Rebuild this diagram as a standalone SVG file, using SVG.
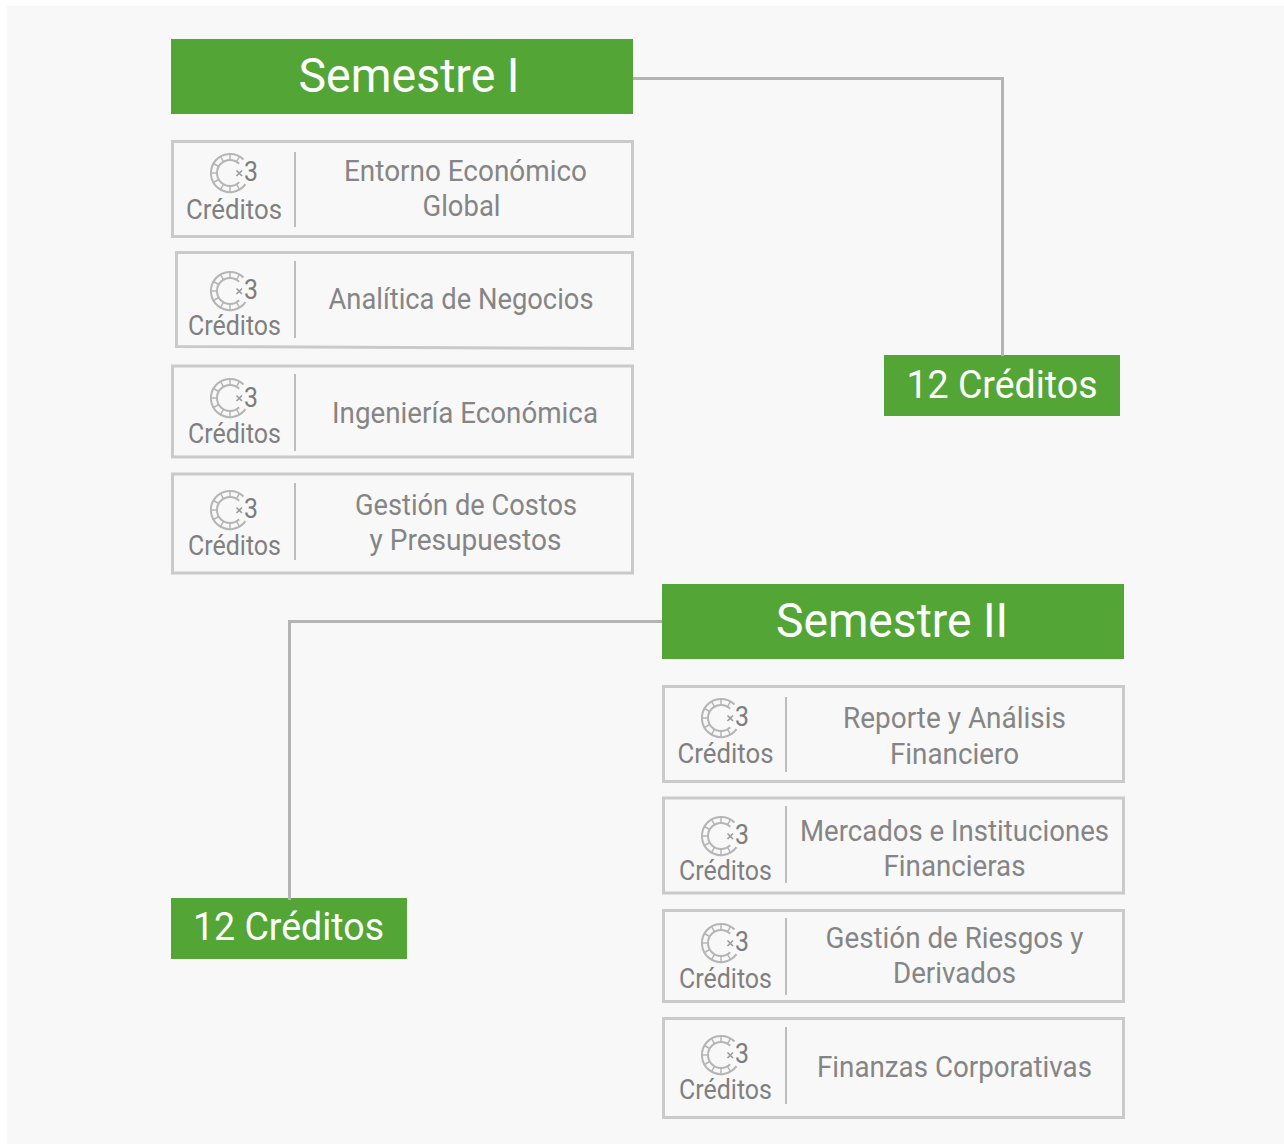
<svg xmlns="http://www.w3.org/2000/svg" width="1284" height="1145" viewBox="0 0 1284 1145">
<style>
text{font-family:Roboto,"Noto Sans","Liberation Sans",sans-serif;text-anchor:middle}
.box{fill:none;stroke:#cacaca;stroke-width:3}
.div{stroke:#bdbdbd;stroke-width:2}
.hd{fill:#53a635}
.t{fill:#858585;font-size:29px}
.c{fill:#808080;font-size:27px}
.n{fill:#7d7d7d;font-size:27px}
.h{fill:#fff;font-size:49px}
.k{fill:#fff;font-size:39px}
.conn{fill:none;stroke:#b4b4b4;stroke-width:3}
.ic{fill:none;stroke:#b5b5b5}
</style>
<defs>
<g id="icon">
<path class="ic" stroke-width="2" d="M13.500 -13.500A19.100 19.100 0 1 0 15.500 11.200M9.200 -9.200A13 13 0 1 0 9.200 9.200"/>
<path class="ic" stroke-width="1.500" d="M0 -13V-19M-6.500 -11.300L-9.500 -16.500M-11.300 -6.500L-16.500 -9.500M-13 0H-19M-11.300 6.500L-16.500 9.500M-6.500 11.300L-9.500 16.500M0 13V19M6.500 11.300L9.500 16.500M6.500 -11.300L9.500 -16.500"/>
<path d="M6.500 -2.500L12 3M12 -2.500L6.500 3" fill="none" stroke="#9a9a9a" stroke-width="1.600"/>
</g>
</defs>
<rect x="7" y="6" width="1277" height="1138" fill="#f8f8f8"/>
<g id="semestre1"><rect class="hd" x="171" y="39" width="462" height="75"/><text class="h" x="409" y="92" textLength="221" lengthAdjust="spacingAndGlyphs">Semestre I</text></g>
<g id="c1"><rect class="box" x="172.500" y="141.500" width="460" height="95"/><line class="div" x1="295" y1="152" x2="295" y2="227"/><use href="#icon" x="230" y="173"/><text class="n" x="251" y="181" textLength="14" lengthAdjust="spacingAndGlyphs">3</text><text class="c" x="234" y="219" textLength="96" lengthAdjust="spacingAndGlyphs">Créditos</text><text class="t" x="465.500" y="181" textLength="243" lengthAdjust="spacingAndGlyphs">Entorno Económico</text><text class="t" x="461.500" y="216" textLength="78" lengthAdjust="spacingAndGlyphs">Global</text></g>
<g id="c2"><path class="box" d="M176.500 252.500H632.500V348.500L176.500 346.500Z"/><line class="div" x1="295" y1="261" x2="295" y2="338"/><use href="#icon" x="230" y="291"/><text class="n" x="251" y="299" textLength="14" lengthAdjust="spacingAndGlyphs">3</text><text class="c" x="234.500" y="335" textLength="93" lengthAdjust="spacingAndGlyphs">Créditos</text><text class="t" x="461" y="309" textLength="265" lengthAdjust="spacingAndGlyphs">Analítica de Negocios</text></g>
<g id="c3"><rect class="box" x="172.500" y="366" width="460" height="91"/><line class="div" x1="295" y1="374" x2="295" y2="451"/><use href="#icon" x="230" y="398"/><text class="n" x="251" y="407" textLength="14" lengthAdjust="spacingAndGlyphs">3</text><text class="c" x="234.500" y="443" textLength="93" lengthAdjust="spacingAndGlyphs">Créditos</text><text class="t" x="465" y="423" textLength="266" lengthAdjust="spacingAndGlyphs">Ingeniería Económica</text></g>
<g id="c4"><rect class="box" x="172.500" y="474" width="460" height="99"/><line class="div" x1="295" y1="483" x2="295" y2="560"/><use href="#icon" x="230" y="510"/><text class="n" x="251" y="518" textLength="14" lengthAdjust="spacingAndGlyphs">3</text><text class="c" x="234.500" y="555" textLength="93" lengthAdjust="spacingAndGlyphs">Créditos</text><text class="t" x="466" y="515" textLength="222" lengthAdjust="spacingAndGlyphs">Gestión de Costos</text><text class="t" x="465.500" y="550" textLength="192" lengthAdjust="spacingAndGlyphs">y Presupuestos</text></g>
<g id="creditos1"><rect class="hd" x="884" y="355" width="236" height="61"/><text class="k" x="1002" y="398" textLength="191" lengthAdjust="spacingAndGlyphs">12 Créditos</text></g>
<g id="semestre2"><rect class="hd" x="662" y="584" width="462" height="75"/><text class="h" x="892" y="637" textLength="232" lengthAdjust="spacingAndGlyphs">Semestre II</text></g>
<g id="c5"><rect class="box" x="663.500" y="686.500" width="460" height="95"/><line class="div" x1="786" y1="697" x2="786" y2="772"/><use href="#icon" x="721" y="718"/><text class="n" x="742" y="726" textLength="14" lengthAdjust="spacingAndGlyphs">3</text><text class="c" x="725.500" y="763" textLength="96" lengthAdjust="spacingAndGlyphs">Créditos</text><text class="t" x="954.500" y="728" textLength="223" lengthAdjust="spacingAndGlyphs">Reporte y Análisis</text><text class="t" x="954.500" y="764" textLength="129" lengthAdjust="spacingAndGlyphs">Financiero</text></g>
<g id="c6"><rect class="box" x="663.500" y="798" width="460" height="95"/><line class="div" x1="786" y1="806" x2="786" y2="883"/><use href="#icon" x="721" y="836"/><text class="n" x="742" y="844" textLength="14" lengthAdjust="spacingAndGlyphs">3</text><text class="c" x="725.500" y="880" textLength="93" lengthAdjust="spacingAndGlyphs">Créditos</text><text class="t" x="954.500" y="841" textLength="309" lengthAdjust="spacingAndGlyphs">Mercados e Instituciones</text><text class="t" x="954.500" y="876" textLength="142" lengthAdjust="spacingAndGlyphs">Financieras</text></g>
<g id="c7"><rect class="box" x="663.500" y="910.500" width="460" height="91"/><line class="div" x1="786" y1="918" x2="786" y2="995"/><use href="#icon" x="721" y="943"/><text class="n" x="742" y="951" textLength="14" lengthAdjust="spacingAndGlyphs">3</text><text class="c" x="725.500" y="988" textLength="93" lengthAdjust="spacingAndGlyphs">Créditos</text><text class="t" x="954.500" y="948" textLength="258" lengthAdjust="spacingAndGlyphs">Gestión de Riesgos y</text><text class="t" x="954.500" y="983" textLength="123" lengthAdjust="spacingAndGlyphs">Derivados</text></g>
<g id="c8"><rect class="box" x="663.500" y="1018.500" width="460" height="99"/><line class="div" x1="786" y1="1027" x2="786" y2="1104"/><use href="#icon" x="721" y="1055"/><text class="n" x="742" y="1063" textLength="14" lengthAdjust="spacingAndGlyphs">3</text><text class="c" x="725.500" y="1099" textLength="93" lengthAdjust="spacingAndGlyphs">Créditos</text><text class="t" x="954.500" y="1077" textLength="275" lengthAdjust="spacingAndGlyphs">Finanzas Corporativas</text></g>
<g id="creditos2"><rect class="hd" x="171" y="898" width="236" height="61"/><text class="k" x="288.500" y="940" textLength="191" lengthAdjust="spacingAndGlyphs">12 Créditos</text></g>
<g id="connectors">
<path class="conn" d="M633 78.500H1002.500V356"/>
<path class="conn" d="M662 621.500H289.500V900"/>
</g>
</svg>
